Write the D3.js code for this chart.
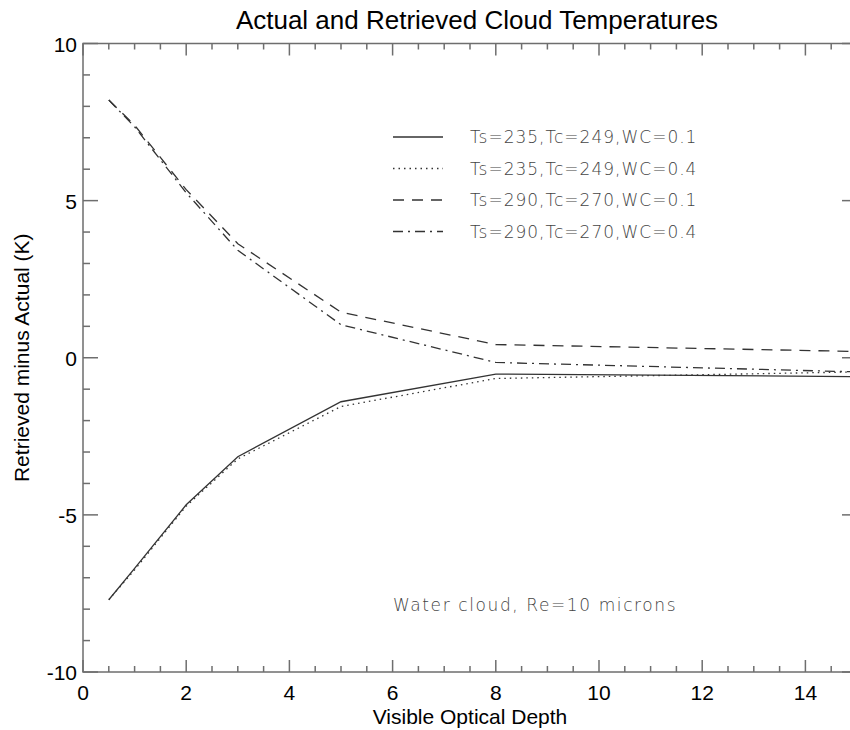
<!DOCTYPE html>
<html>
<head>
<meta charset="utf-8">
<script src="https://cdn.jsdelivr.net/npm/d3@7"></script>
<style>
  body { margin: 0; background: #fff; }
  svg { display: block; }
</style>
</head>
<body>
<div id="chart"></div>
<script>
const depth = [0.5, 1, 2, 3, 5, 8, 15];
const s235wc01 = [-7.7, -6.7, -4.68, -3.15, -1.4, -0.52, -0.6];
const s235wc04 = [-7.7, -6.75, -4.72, -3.22, -1.55, -0.66, -0.45];
const s290wc01 = [8.2, 7.4, 5.35, 3.63, 1.45, 0.42, 0.2];
const s290wc04 = [8.2, 7.35, 5.25, 3.42, 1.05, -0.15, -0.45];
const labels = ["Ts=235,Tc=249,WC=0.1", "Ts=235,Tc=249,WC=0.4",
                "Ts=290,Tc=270,WC=0.1", "Ts=290,Tc=270,WC=0.4"];
const dashes = [null, "1.5,4", "11,8", "10,5,2,5"];
const series = [s235wc01, s235wc04, s290wc01, s290wc04];

const width = 850;
const height = 730;
const margin = {top: 43.5, left: 83, bottom: 672, right: 857};

const svg = d3.select("#chart")
  .append("svg")
  .attr("width", width)
  .attr("height", height)
  .attr("viewBox", [0, 0, width, height]);

const x = d3.scaleLinear().domain([0, 15]).range([margin.left, margin.right]);
const y = d3.scaleLinear().domain([-10, 10]).range([margin.bottom, margin.top]);

const axisColor = "#6e6e6e";

// frame
svg.append("rect")
  .attr("x", x(0)).attr("y", y(10))
  .attr("width", x(15) - x(0)).attr("height", y(-10) - y(10))
  .attr("fill", "none").attr("stroke", axisColor).attr("stroke-width", 1.5);

const g = svg.append("g").attr("stroke", axisColor).attr("stroke-width", 1.5);

// x ticks, bottom (up) and top (down)
d3.range(0, 15.01, 0.5).forEach(v => {
  const major = v % 2 === 0;
  const len = major ? 12 : 6;
  g.append("line").attr("x1", x(v)).attr("x2", x(v))
    .attr("y1", y(-10)).attr("y2", y(-10) - len);
  g.append("line").attr("x1", x(v)).attr("x2", x(v))
    .attr("y1", y(10)).attr("y2", y(10) + len);
});

// y ticks, left (right) and right (left)
d3.range(-10, 10.01, 1).forEach(v => {
  const major = v % 5 === 0;
  const len = major ? 15 : 7;
  g.append("line").attr("x1", x(0)).attr("x2", x(0) + len)
    .attr("y1", y(v)).attr("y2", y(v));
  g.append("line").attr("x1", x(15)).attr("x2", x(15) - len)
    .attr("y1", y(v)).attr("y2", y(v));
});

const font = "'Liberation Sans', Arial, sans-serif";

svg.append("g")
  .selectAll("text")
  .data(d3.range(0, 15, 2))
  .join("text")
  .attr("x", d => x(d))
  .attr("y", y(-10) + 28)
  .attr("text-anchor", "middle")
  .attr("font-family", font)
  .attr("font-size", 21)
  .text(d => d);

svg.append("g")
  .selectAll("text")
  .data([-10, -5, 0, 5, 10])
  .join("text")
  .attr("x", x(0) - 6)
  .attr("y", d => y(d) + 8)
  .attr("text-anchor", "end")
  .attr("font-family", font)
  .attr("font-size", 21)
  .text(d => d);

svg.append("text")
  .attr("x", 477).attr("y", 29)
  .attr("text-anchor", "middle")
  .attr("font-family", font).attr("font-size", 26)
  .text("Actual and Retrieved Cloud Temperatures");

svg.append("text")
  .attr("x", 470).attr("y", 724)
  .attr("text-anchor", "middle")
  .attr("font-family", font).attr("font-size", 21)
  .text("Visible Optical Depth");

svg.append("text")
  .attr("transform", `translate(29, ${y(0)}) rotate(-90)`)
  .attr("text-anchor", "middle")
  .attr("font-family", font).attr("font-size", 21)
  .text("Retrieved minus Actual (K)");

// curves
const line = d3.line().x((d, i) => x(depth[i])).y(d => y(d));
svg.append("clipPath").attr("id", "plot")
  .append("rect").attr("x", x(0)).attr("y", y(10))
  .attr("width", x(15) - x(0)).attr("height", y(-10) - y(10));

svg.append("g")
  .attr("clip-path", "url(#plot)")
  .selectAll("path")
  .data(series)
  .join("path")
  .attr("d", d => line(d))
  .attr("fill", "none")
  .attr("stroke", "#333")
  .attr("stroke-width", 1.3)
  .attr("stroke-dasharray", (d, i) => dashes[i]);

// legend
const legendFont = "'DejaVu Sans', sans-serif";
const lg = svg.append("g");
labels.forEach((lab, i) => {
  const ly = 137 + i * 31.5;
  lg.append("line")
    .attr("x1", 393).attr("x2", 443).attr("y1", ly).attr("y2", ly)
    .attr("stroke", "#333").attr("stroke-width", 1.3)
    .attr("stroke-dasharray", dashes[i]);
  lg.append("text")
    .attr("x", 470).attr("y", ly + 6)
    .attr("font-family", legendFont).attr("font-size", 17)
    .attr("font-weight", 200)
    .attr("letter-spacing", 1)
    .attr("fill", "#444")
    .text(lab);
});

svg.append("text")
  .attr("x", 393).attr("y", 611)
  .attr("font-family", legendFont).attr("font-size", 17)
  .attr("font-weight", 200)
  .attr("letter-spacing", 1.6)
  .attr("fill", "#444")
  .text("Water cloud, Re=10 microns");
</script>
</body>
</html>
